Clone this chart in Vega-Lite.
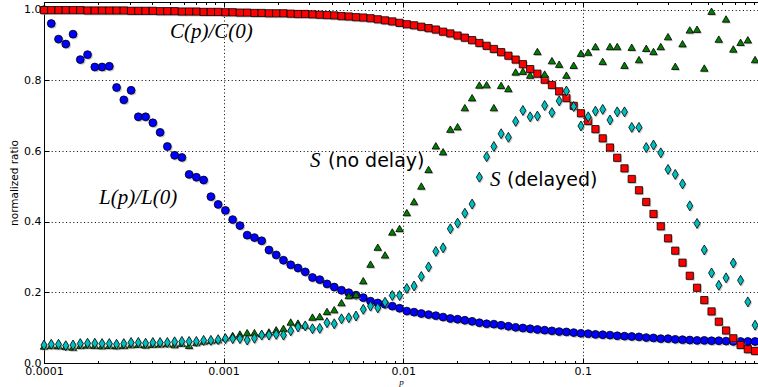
{
  "$schema": "https://vega.github.io/schema/vega-lite/v6.json",
  "width": 714,
  "height": 361,
  "autosize": {"type": "none"},
  "padding": {"left": 44, "top": 2, "right": 0, "bottom": 24},
  "background": "white",
  "config": {
    "view": {"stroke": "black", "strokeWidth": 1},
    "axis": {"labelFont": "DejaVu Sans", "labelColor": "black", "domainColor": "black", "tickColor": "black", "titleColor": "black", "titleFontWeight": "normal"}
  },
  "datasets": {
    "series": [
      {"p":0.0001,"L":1.000,"C":0.999,"S":0.048,"D":0.051},
      {"p":0.00010975,"L":0.961,"C":0.999,"S":0.050,"D":0.053},
      {"p":0.00012045,"L":0.917,"C":0.999,"S":0.049,"D":0.053},
      {"p":0.00013219,"L":0.903,"C":0.999,"S":0.047,"D":0.049},
      {"p":0.00014508,"L":0.931,"C":0.999,"S":0.045,"D":0.051},
      {"p":0.00015923,"L":0.859,"C":0.999,"S":0.050,"D":0.055},
      {"p":0.00017475,"L":0.873,"C":0.998,"S":0.051,"D":0.056},
      {"p":0.00019179,"L":0.838,"C":0.998,"S":0.050,"D":0.056},
      {"p":0.00021049,"L":0.838,"C":0.998,"S":0.049,"D":0.055},
      {"p":0.00023101,"L":0.840,"C":0.998,"S":0.050,"D":0.055},
      {"p":0.00025354,"L":0.780,"C":0.998,"S":0.049,"D":0.053},
      {"p":0.00027826,"L":0.745,"C":0.998,"S":0.050,"D":0.055},
      {"p":0.00030539,"L":0.772,"C":0.997,"S":0.052,"D":0.058},
      {"p":0.00033516,"L":0.697,"C":0.997,"S":0.053,"D":0.058},
      {"p":0.00036784,"L":0.697,"C":0.997,"S":0.051,"D":0.056},
      {"p":0.00040370,"L":0.680,"C":0.997,"S":0.053,"D":0.058},
      {"p":0.00044306,"L":0.653,"C":0.996,"S":0.054,"D":0.058},
      {"p":0.00048626,"L":0.613,"C":0.996,"S":0.055,"D":0.058},
      {"p":0.00053367,"L":0.588,"C":0.996,"S":0.052,"D":0.060},
      {"p":0.00058570,"L":0.582,"C":0.995,"S":0.056,"D":0.061},
      {"p":0.00064281,"L":0.534,"C":0.995,"S":0.050,"D":0.061},
      {"p":0.00070548,"L":0.526,"C":0.995,"S":0.058,"D":0.061},
      {"p":0.00077426,"L":0.518,"C":0.994,"S":0.062,"D":0.064},
      {"p":0.00084975,"L":0.471,"C":0.994,"S":0.064,"D":0.064},
      {"p":0.00093260,"L":0.449,"C":0.994,"S":0.066,"D":0.066},
      {"p":0.0010235,"L":0.432,"C":0.993,"S":0.072,"D":0.069},
      {"p":0.0011233,"L":0.406,"C":0.993,"S":0.078,"D":0.069},
      {"p":0.0012328,"L":0.389,"C":0.992,"S":0.082,"D":0.069},
      {"p":0.0013530,"L":0.362,"C":0.992,"S":0.086,"D":0.065},
      {"p":0.0014850,"L":0.355,"C":0.991,"S":0.086,"D":0.070},
      {"p":0.0016298,"L":0.346,"C":0.991,"S":0.083,"D":0.079},
      {"p":0.0017886,"L":0.320,"C":0.990,"S":0.088,"D":0.079},
      {"p":0.0019630,"L":0.306,"C":0.990,"S":0.094,"D":0.081},
      {"p":0.0021544,"L":0.291,"C":0.990,"S":0.098,"D":0.079},
      {"p":0.0023645,"L":0.278,"C":0.989,"S":0.116,"D":0.091},
      {"p":0.0025950,"L":0.269,"C":0.988,"S":0.113,"D":0.102},
      {"p":0.0028480,"L":0.258,"C":0.988,"S":0.107,"D":0.105},
      {"p":0.0031257,"L":0.242,"C":0.987,"S":0.130,"D":0.097},
      {"p":0.0034305,"L":0.236,"C":0.986,"S":0.132,"D":0.098},
      {"p":0.0037649,"L":0.224,"C":0.985,"S":0.146,"D":0.114},
      {"p":0.0041320,"L":0.215,"C":0.984,"S":0.151,"D":0.111},
      {"p":0.0045349,"L":0.206,"C":0.982,"S":0.171,"D":0.125},
      {"p":0.0049770,"L":0.199,"C":0.981,"S":0.191,"D":0.128},
      {"p":0.0054623,"L":0.192,"C":0.979,"S":0.194,"D":0.133},
      {"p":0.0059948,"L":0.185,"C":0.978,"S":0.233,"D":0.152},
      {"p":0.0065793,"L":0.175,"C":0.976,"S":0.280,"D":0.161},
      {"p":0.0072208,"L":0.170,"C":0.973,"S":0.328,"D":0.156},
      {"p":0.0079248,"L":0.166,"C":0.970,"S":0.306,"D":0.172},
      {"p":0.0086975,"L":0.161,"C":0.967,"S":0.371,"D":0.191},
      {"p":0.0095455,"L":0.155,"C":0.963,"S":0.381,"D":0.191},
      {"p":0.010476,"L":0.147,"C":0.959,"S":0.426,"D":0.211},
      {"p":0.011498,"L":0.144,"C":0.956,"S":0.457,"D":0.218},
      {"p":0.012619,"L":0.140,"C":0.952,"S":0.501,"D":0.245},
      {"p":0.013849,"L":0.137,"C":0.948,"S":0.548,"D":0.272},
      {"p":0.015199,"L":0.134,"C":0.944,"S":0.615,"D":0.316},
      {"p":0.016681,"L":0.130,"C":0.938,"S":0.598,"D":0.326},
      {"p":0.018307,"L":0.126,"C":0.933,"S":0.662,"D":0.380},
      {"p":0.020092,"L":0.124,"C":0.927,"S":0.669,"D":0.396},
      {"p":0.022051,"L":0.121,"C":0.921,"S":0.723,"D":0.424},
      {"p":0.024201,"L":0.118,"C":0.914,"S":0.751,"D":0.450},
      {"p":0.026561,"L":0.114,"C":0.906,"S":0.787,"D":0.526},
      {"p":0.029151,"L":0.111,"C":0.898,"S":0.788,"D":0.584},
      {"p":0.031993,"L":0.110,"C":0.889,"S":0.723,"D":0.613},
      {"p":0.035112,"L":0.107,"C":0.880,"S":0.786,"D":0.649},
      {"p":0.038535,"L":0.104,"C":0.870,"S":0.777,"D":0.639},
      {"p":0.042292,"L":0.101,"C":0.859,"S":0.824,"D":0.684},
      {"p":0.046416,"L":0.099,"C":0.846,"S":0.826,"D":0.715},
      {"p":0.050941,"L":0.097,"C":0.832,"S":0.815,"D":0.697},
      {"p":0.055908,"L":0.095,"C":0.819,"S":0.882,"D":0.699},
      {"p":0.061359,"L":0.093,"C":0.802,"S":0.818,"D":0.729},
      {"p":0.067342,"L":0.091,"C":0.787,"S":0.856,"D":0.709},
      {"p":0.073907,"L":0.089,"C":0.769,"S":0.846,"D":0.742},
      {"p":0.081113,"L":0.088,"C":0.750,"S":0.815,"D":0.770},
      {"p":0.089022,"L":0.086,"C":0.728,"S":0.843,"D":0.726},
      {"p":0.097701,"L":0.084,"C":0.707,"S":0.877,"D":0.671},
      {"p":0.10723,"L":0.083,"C":0.685,"S":0.880,"D":0.697},
      {"p":0.11768,"L":0.081,"C":0.662,"S":0.896,"D":0.713},
      {"p":0.12916,"L":0.080,"C":0.636,"S":0.854,"D":0.718},
      {"p":0.14175,"L":0.079,"C":0.610,"S":0.896,"D":0.688},
      {"p":0.15557,"L":0.077,"C":0.581,"S":0.896,"D":0.711},
      {"p":0.17074,"L":0.076,"C":0.551,"S":0.843,"D":0.711},
      {"p":0.18738,"L":0.075,"C":0.521,"S":0.894,"D":0.667},
      {"p":0.20565,"L":0.074,"C":0.489,"S":0.859,"D":0.667},
      {"p":0.22570,"L":0.072,"C":0.456,"S":0.891,"D":0.610},
      {"p":0.24771,"L":0.071,"C":0.422,"S":0.882,"D":0.617},
      {"p":0.27186,"L":0.069,"C":0.387,"S":0.896,"D":0.595},
      {"p":0.29836,"L":0.069,"C":0.353,"S":0.924,"D":0.548},
      {"p":0.32745,"L":0.067,"C":0.318,"S":0.840,"D":0.534},
      {"p":0.35938,"L":0.066,"C":0.284,"S":0.904,"D":0.507},
      {"p":0.39442,"L":0.065,"C":0.247,"S":0.943,"D":0.445},
      {"p":0.43288,"L":0.064,"C":0.213,"S":0.945,"D":0.395},
      {"p":0.47508,"L":0.064,"C":0.178,"S":0.835,"D":0.320},
      {"p":0.52140,"L":0.063,"C":0.146,"S":0.996,"D":0.255},
      {"p":0.57224,"L":0.063,"C":0.117,"S":0.917,"D":0.220},
      {"p":0.62803,"L":0.062,"C":0.092,"S":0.974,"D":0.241},
      {"p":0.68926,"L":0.061,"C":0.070,"S":0.889,"D":0.283},
      {"p":0.75646,"L":0.061,"C":0.051,"S":0.908,"D":0.234},
      {"p":0.83022,"L":0.061,"C":0.039,"S":0.915,"D":0.173},
      {"p":0.91116,"L":0.061,"C":0.034,"S":0.859,"D":0.107}
    ],
    "mathnotes": [
      {"label":"C(p)/C(0)","p":0.000503,"v":0.937},
      {"label":"L(p)/L(0)","p":0.0002024,"v":0.467},
      {"label":"S","p":0.00303,"v":0.572},
      {"label":"S","p":0.03044,"v":0.518}
    ],
    "textnotes": [
      {"label":"(no delay)","p":0.003814,"v":0.572},
      {"label":"(delayed)","p":0.03785,"v":0.518}
    ]
  },
  "layer": [
    {
      "data": {"name": "series"},
      "mark": {"type": "point", "shape": "circle", "filled": true, "fill": "#9a9a9a", "strokeWidth": 0, "opacity": 0.55, "size": 66, "xOffset": 1.2, "yOffset": 1.2},
      "encoding": {
        "x": {"field": "p", "type": "quantitative",
          "scale": {"type": "log", "domain": [0.0001, 0.946], "nice": false},
          "axis": {"orient": "bottom",
            "values": [0.0001,0.0002,0.0003,0.0004,0.0005,0.0006,0.0007,0.0008,0.0009,0.001,0.002,0.003,0.004,0.005,0.006,0.007,0.008,0.009,0.01,0.02,0.03,0.04,0.05,0.06,0.07,0.08,0.09,0.1,0.2,0.3,0.4,0.5,0.6,0.7,0.8,0.9],
            "format": "~g",
            "labelExpr": "abs(log(datum.value)/LN10 - round(log(datum.value)/LN10)) < 0.001 ? datum.label : ''",
            "tickSize": {"condition": {"test": "abs(log(datum.value)/LN10 - round(log(datum.value)/LN10)) < 0.001", "value": -5}, "value": -2.5},
            "grid": true,
            "gridColor": "black",
            "gridDash": [1, 2.6],
            "gridWidth": 1,
            "gridOpacity": {"condition": {"test": "abs(log(datum.value)/LN10 - round(log(datum.value)/LN10)) < 0.001", "value": 1}, "value": 0},
            "labelFontSize": 11,
            "labelPadding": 7,
            "labelFlush": false,
            "labelOverlap": false,
            "title": "p",
            "titleFont": "Liberation Serif",
            "titleFontStyle": "italic",
            "titleFontSize": 9,
            "titlePadding": -1}},
        "y": {"field": "L", "type": "quantitative",
          "scale": {"domain": [0, 1.022], "nice": false},
          "axis": {"orient": "left", "values": [0, 0.2, 0.4, 0.6, 0.8, 1.0], "format": ".1f",
            "tickSize": -5, "grid": true, "gridColor": "black", "gridDash": [1, 2.6], "gridOpacity": 1,
            "labelFontSize": 11, "labelPadding": 8, "title": "normalized ratio", "titleFont": "DejaVu Sans", "titleFontSize": 10.5, "titlePadding": 4}}
      }
    },
    {
      "data": {"name": "series"},
      "mark": {"type": "point", "shape": "circle", "filled": true, "fill": "#0000ff", "stroke": "black", "strokeWidth": 0.8, "opacity": 1, "size": 62},
      "encoding": {
        "x": {"field": "p", "type": "quantitative", "axis": null},
        "y": {"field": "L", "type": "quantitative"}
      }
    },
    {
      "data": {"name": "series"},
      "mark": {"type": "point", "shape": "square", "filled": true, "fill": "#9a9a9a", "strokeWidth": 0, "opacity": 0.55, "size": 56, "xOffset": 1.2, "yOffset": 1.2},
      "encoding": {
        "x": {"field": "p", "type": "quantitative",
          "axis": {"orient": "top",
            "values": [0.0001,0.0002,0.0003,0.0004,0.0005,0.0006,0.0007,0.0008,0.0009,0.001,0.002,0.003,0.004,0.005,0.006,0.007,0.008,0.009,0.01,0.02,0.03,0.04,0.05,0.06,0.07,0.08,0.09,0.1,0.2,0.3,0.4,0.5,0.6,0.7,0.8,0.9],
            "labels": false,
            "tickSize": {"condition": {"test": "abs(log(datum.value)/LN10 - round(log(datum.value)/LN10)) < 0.001", "value": -5}, "value": -2.5},
            "grid": false,
            "title": null}},
        "y": {"field": "C", "type": "quantitative"}
      }
    },
    {
      "data": {"name": "series"},
      "mark": {"type": "point", "shape": "square", "filled": true, "fill": "#ff0000", "stroke": "black", "strokeWidth": 0.8, "opacity": 1, "size": 52},
      "encoding": {
        "x": {"field": "p", "type": "quantitative", "axis": null},
        "y": {"field": "C", "type": "quantitative"}
      }
    },
    {
      "data": {"name": "series"},
      "mark": {"type": "point", "shape": "triangle-up", "filled": true, "fill": "#9a9a9a", "strokeWidth": 0, "opacity": 0.55, "size": 60, "xOffset": 1.2, "yOffset": 1.2},
      "encoding": {
        "x": {"field": "p", "type": "quantitative", "axis": null},
        "y": {"field": "S", "type": "quantitative"}
      }
    },
    {
      "data": {"name": "series"},
      "mark": {"type": "point", "shape": "triangle-up", "filled": true, "fill": "#007f00", "stroke": "black", "strokeWidth": 0.8, "opacity": 1, "size": 55},
      "encoding": {
        "x": {"field": "p", "type": "quantitative", "axis": null},
        "y": {"field": "S", "type": "quantitative"}
      }
    },
    {
      "data": {"name": "series"},
      "mark": {"type": "point", "shape": "M0,-1L0.6,0L0,1L-0.6,0Z", "filled": true, "fill": "#9a9a9a", "strokeWidth": 0, "opacity": 0.55, "size": 108, "xOffset": 1.2, "yOffset": 1.2},
      "encoding": {
        "x": {"field": "p", "type": "quantitative", "axis": null},
        "y": {"field": "D", "type": "quantitative"}
      }
    },
    {
      "data": {"name": "series"},
      "mark": {"type": "point", "shape": "M0,-1L0.6,0L0,1L-0.6,0Z", "filled": true, "fill": "#00bfbf", "stroke": "black", "strokeWidth": 0.8, "opacity": 1, "size": 100},
      "encoding": {
        "x": {"field": "p", "type": "quantitative", "axis": null},
        "y": {"field": "D", "type": "quantitative"}
      }
    },
    {
      "data": {"name": "mathnotes"},
      "mark": {"type": "text", "align": "left", "baseline": "middle", "font": "Liberation Serif", "fontStyle": "italic", "fontSize": 21, "color": "black"},
      "encoding": {
        "x": {"field": "p", "type": "quantitative", "axis": null},
        "y": {"field": "v", "type": "quantitative"},
        "text": {"field": "label"}
      }
    },
    {
      "data": {"name": "textnotes"},
      "mark": {"type": "text", "align": "left", "baseline": "middle", "font": "DejaVu Sans", "fontSize": 19, "color": "black"},
      "encoding": {
        "x": {"field": "p", "type": "quantitative", "axis": null},
        "y": {"field": "v", "type": "quantitative"},
        "text": {"field": "label"}
      }
    }
  ],
  "resolve": {"axis": {"x": "independent"}}
}
